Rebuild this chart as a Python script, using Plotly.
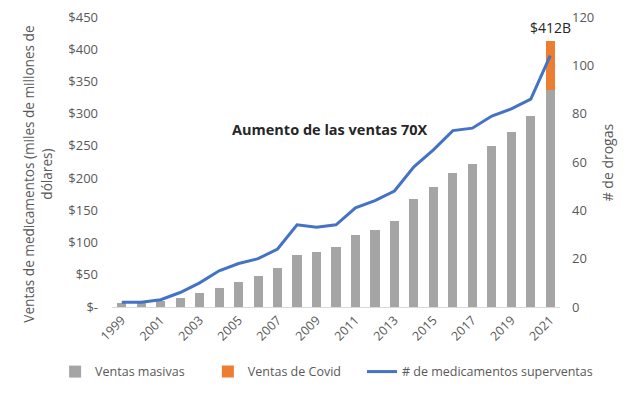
import plotly.graph_objects as go

years = list(range(1999, 2022))
ventas_masivas = [6, 6, 10, 14, 21, 30, 39, 48, 60, 80, 85, 93, 111, 119, 133, 167, 186, 208, 222, 250, 272, 296, 336]
ventas_covid = [0]*22 + [76]
num_medicamentos = [2, 2, 3, 6, 10, 15, 18, 20, 24, 34, 33, 34, 41, 44, 48, 58, 65, 73, 74, 79, 82, 86, 104]
left_ticks = [0, 50, 100, 150, 200, 250, 300, 350, 400, 450]
left_ticktext = ["$-"] + ["$%d" % v for v in left_ticks[1:]]
right_ticks = [0, 20, 40, 60, 80, 100, 120]
x_ticks = list(range(1999, 2022, 2))

FONT = "Open Sans"
TXT = "#595959"

fig = go.Figure()
fig.add_trace(go.Bar(x=years, y=ventas_masivas, name="Ventas masivas", legend="legend",
                     marker=dict(color="#A5A5A5", line=dict(width=0))))
fig.add_trace(go.Bar(x=years, y=ventas_covid, name="Ventas de Covid", legend="legend2",
                     marker=dict(color="#ED7D31", line=dict(width=0))))
fig.add_trace(go.Scatter(x=years, y=num_medicamentos, name="# de medicamentos superventas",
                         legend="legend3",
                         mode="lines", line=dict(color="#4472C4", width=3), yaxis="y2"))

leg_common = dict(orientation="h", y=-0.224, yanchor="middle", xanchor="left",
                  font=dict(size=12.5, color=TXT), bgcolor="rgba(0,0,0,0)")

fig.update_layout(
    barmode="stack",
    bargap=0.53,
    width=632, height=387,
    margin=dict(l=104, r=80, t=9, b=88, autoexpand=False),
    paper_bgcolor="white", plot_bgcolor="white",
    font=dict(family=FONT, size=13, color=TXT),
    showlegend=True,
    legend=dict(x=-0.127, **leg_common),
    legend2=dict(x=0.214, **leg_common),
    legend3=dict(x=0.558, **leg_common),
    xaxis=dict(range=[1998.5, 2021.5], tickvals=x_ticks, ticktext=[str(v) for v in x_ticks],
               tickangle=-45, showgrid=False, showline=True, linecolor="#D9D9D9",
               linewidth=1, ticks="", zeroline=False, tickfont=dict(size=12.5),
               automargin=False, ticklabeloverflow="allow"),
    yaxis=dict(range=[0, 450], tickvals=left_ticks, ticktext=left_ticktext,
               showgrid=False, showline=False, zeroline=False, ticks="",
               ticklabelstandoff=13, automargin=False, ticklabeloverflow="allow"),
    yaxis2=dict(range=[0, 120], tickvals=right_ticks, overlaying="y", side="right",
                showgrid=False, showline=False, zeroline=False, ticks="",
                ticklabelstandoff=11, automargin=False, ticklabeloverflow="allow"),
    annotations=[
        dict(text="Ventas de medicamentos (miles de millones de<br>dólares)",
             xref="paper", yref="paper", x=-0.12, y=0.459, xanchor="right", yanchor="middle",
             textangle=-90, showarrow=False, font=dict(size=13.6, color=TXT), align="center"),
        dict(text="# de drogas", xref="paper", yref="paper", x=1.08, y=0.5,
             xanchor="left", yanchor="middle", textangle=-90, showarrow=False,
             font=dict(size=14, color=TXT)),
        dict(text="<b>Aumento de las ventas 70X</b>", x=2009.67, y=275, xref="x", yref="y",
             showarrow=False, font=dict(size=14.5, color="#262626")),
        dict(text="$412B", x=2021, y=412, xref="x", yref="y", yanchor="bottom",
             showarrow=False, yshift=2, font=dict(size=14, color="#262626")),
    ],
)

fig.write_html("out.html")
